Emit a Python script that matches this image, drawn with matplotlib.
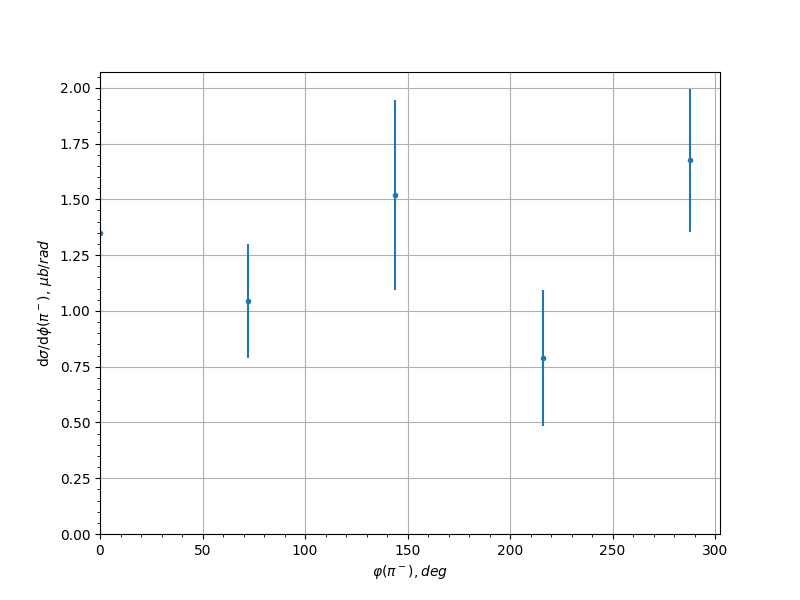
import matplotlib
matplotlib.use("Agg")
import matplotlib.pyplot as plt

phi_deg = [0, 72, 144, 216, 288]
dsigma = [1.348, 1.045, 1.519, 0.788, 1.675]
dsigma_err = [0.0, 0.255, 0.425, 0.305, 0.32]

fig, ax = plt.subplots(figsize=(8, 6), dpi=100)
ax.errorbar(phi_deg, dsigma, yerr=dsigma_err, fmt='.')
ax.set_xlim(left=0)
ax.set_ylim(bottom=0)
ax.minorticks_on()
ax.grid(True, which='major')
ax.set_xlabel(r'$\varphi(\pi^-), deg$')
ax.set_ylabel(r'd$\sigma$/d$\phi$($\pi^-$), $\mu b/rad$')
fig.savefig('out.png')
